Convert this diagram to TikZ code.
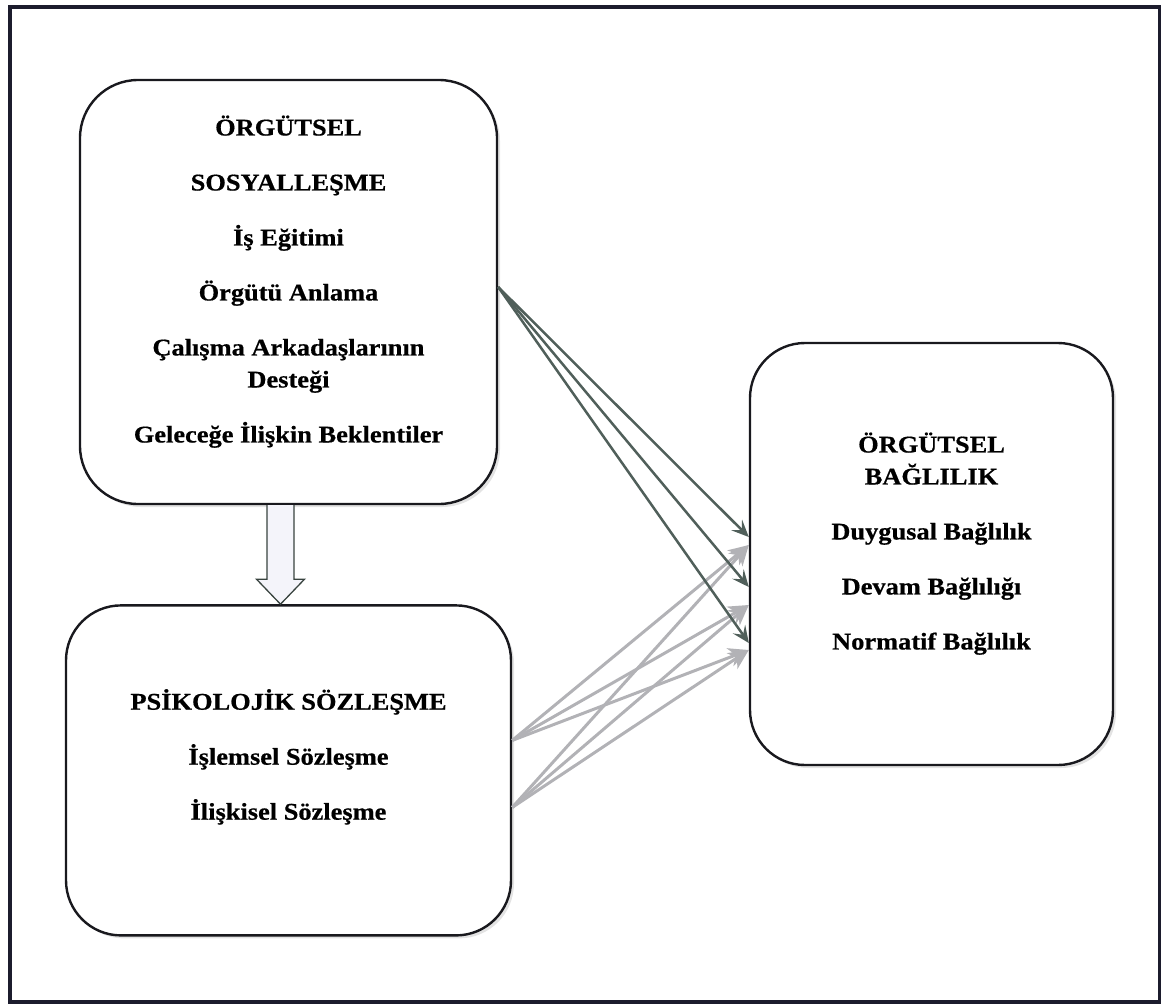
\documentclass[tikz,border=0pt]{standalone}
\usepackage{fontspec}
\setmainfont{Liberation Serif}[FakeStretch=1.1, FakeBold=0.6]
\usepackage{tikz}
\usetikzlibrary{arrows.meta,positioning,calc,shadows}
\definecolor{framecol}{RGB}{28,28,45}
\definecolor{edgecol}{RGB}{25,25,30}
\definecolor{darklink}{RGB}{80,95,90}
\definecolor{lightlink}{RGB}{178,178,182}
\definecolor{blockbg}{RGB}{244,244,250}
\tikzset{
    conceptbox/.style={draw=edgecol, line width=2.4pt, fill=white, align=center, inner sep=0pt, rounded corners=55pt,
        font=\fontsize{24}{32}\selectfont\bfseries, text depth=26pt,
        drop shadow={shadow xshift=3pt, shadow yshift=-3pt, opacity=0.22, fill=gray}},
    darkarrow/.style={draw=darklink, line width=2.5pt, -{Stealth[length=17pt, width=15pt, inset=7pt]}},
    lightarrow/.style={draw=lightlink, line width=3pt, -{Stealth[length=20pt, width=19pt, inset=6pt]}},
    blockarrow/.style={draw=darklink!70!black, line width=1.3pt, fill=blockbg, line join=miter}
}
\begin{document}
\begin{tikzpicture}[x=1pt, y=-1pt]
    \useasboundingbox (0,0) rectangle (1162,1004);
    \draw[framecol, line width=3.5pt] (10,7) rectangle (1159.5,1002);

    \node[conceptbox, minimum width=417pt, minimum height=424pt, rounded corners=58pt] (sosyal) at (288.5,292)
        {ÖRGÜTSEL\\[23pt]SOSYALLEŞME\\[23pt]İş Eğitimi\\[23pt]Örgütü Anlama\\[23pt]Çalışma Arkadaşlarının\\Desteği\\[23pt]Geleceğe İlişkin Beklentiler};
    \node[conceptbox, below=99pt of sosyal, minimum width=445pt, minimum height=330pt, text depth=32pt] (psiko)
        {PSİKOLOJİK SÖZLEŞME\\[23pt]İşlemsel Sözleşme\\[23pt]İlişkisel Sözleşme};
    \node[conceptbox, minimum width=363pt, minimum height=422pt] (bag) at (931.5,554)
        {ÖRGÜTSEL\\BAĞLILIK\\[23pt]Duygusal Bağlılık\\[23pt]Devam Bağlılığı\\[23pt]Normatif Bağlılık};

    \coordinate (tip) at ($(psiko.north)+(-8,0)$);
    \draw[blockarrow] ($(tip |- sosyal.south)+(-13.5,0)$) -- ($(tip)+(-13.5,-25)$) -- ($(tip)+(-24,-25)$) -- (tip)
        -- ($(tip)+(24,-25)$) -- ($(tip)+(13.5,-25)$) -- ($(tip |- sosyal.south)+(13.5,0)$);

    \coordinate (s1) at ($(sosyal.east)+(0,-5)$);
    \coordinate (p1) at ($(psiko.east)+(0,-30)$);
    \coordinate (p2) at ($(psiko.east)+(0,37)$);
    \coordinate (d1) at ($(bag.west)+(0,-17)$);
    \coordinate (d2) at ($(bag.west)+(0,33)$);
    \coordinate (d3) at ($(bag.west)+(0,89)$);
    \coordinate (l1) at ($(bag.west)+(0,-9)$);
    \coordinate (l2) at ($(bag.west)+(0,51)$);
    \coordinate (l3) at ($(bag.west)+(0,96)$);

    \foreach \src in {p1,p2}
        \foreach \dst in {l1,l2,l3}
            \draw[lightarrow] (\src) -- (\dst);
    \foreach \dst in {d1,d2,d3}
        \draw[darkarrow] (s1) -- (\dst);
\end{tikzpicture}
\end{document}
